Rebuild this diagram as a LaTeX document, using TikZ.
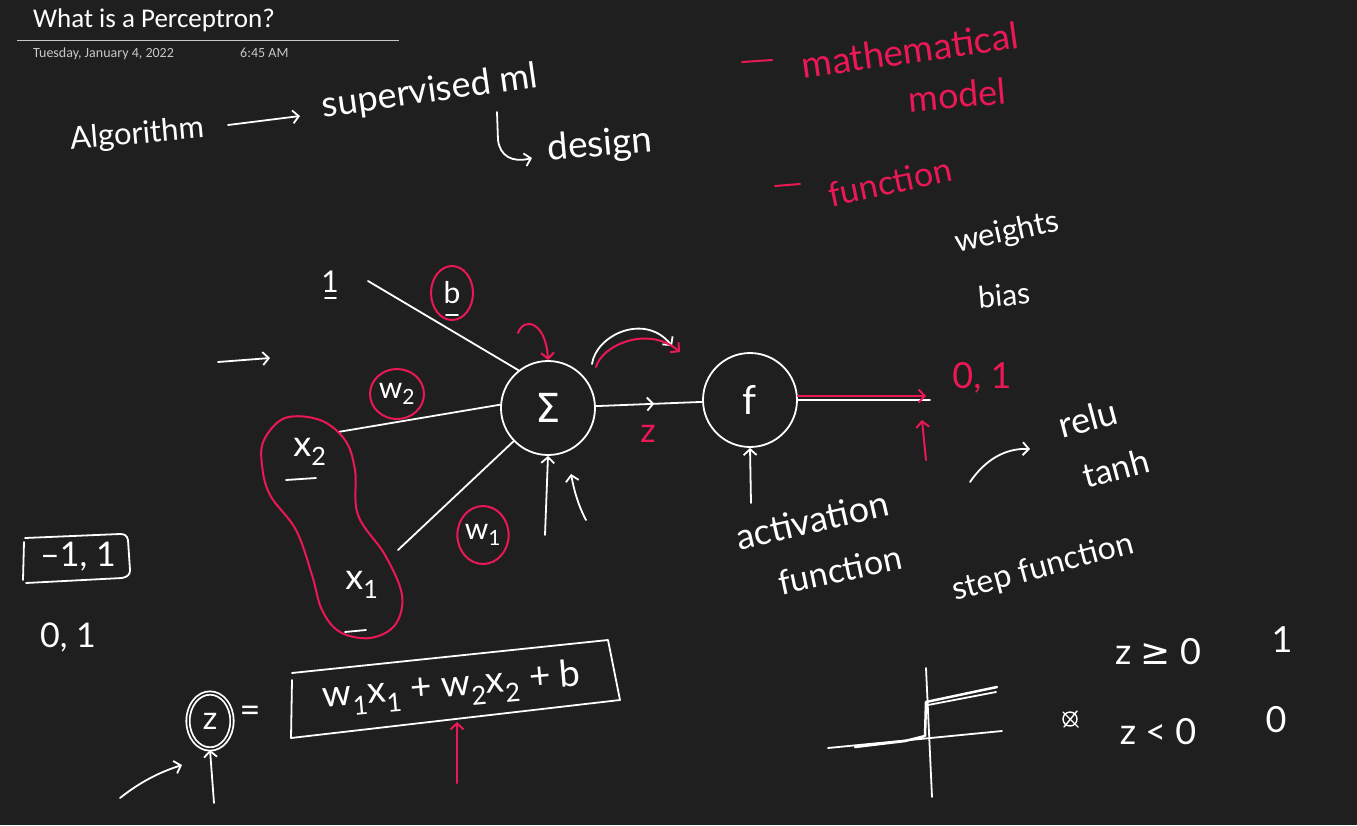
\documentclass[tikz,border=0pt]{standalone}
\usepackage{fontspec}
\usetikzlibrary{arrows.meta,shapes.geometric,decorations.markings}
\newfontfamily\titlefont{Carlito}
\newfontfamily\hand{Lato}
\newfontfamily\symf{DejaVu Sans}
\definecolor{bgc}{RGB}{32,31,31}
\definecolor{pk}{RGB}{234,24,84}
\definecolor{gr}{RGB}{200,200,200}
\tikzset{
  >={Straight Barb[length=6pt,width=13pt]},
  wl/.style={draw=white, line width=1.8pt, line cap=round, line join=round},
  pl/.style={draw=pk, line width=2pt, line cap=round, line join=round},
  hw/.style={text=white, inner sep=0pt, font=\hand\fontsize{#1}{#1}\selectfont},
  hw/.default=28,
  ph/.style={text=pk, inner sep=0pt, font=\hand\fontsize{#1}{#1}\selectfont},
  ph/.default=28,
  bignode/.style={circle, draw=white, line width=1.8pt, minimum size=94pt, inner sep=0pt, text=white, font=\hand\fontsize{40}{40}\selectfont},
  pcirc/.style={ellipse, draw=pk, line width=2pt, inner sep=0pt, text=white, font=\hand\fontsize{30}{30}\selectfont},
  midarrow/.style={postaction={decorate}, decoration={markings, mark=at position 0.55 with {\arrow[line width=1.8pt]{Straight Barb[length=6pt,width=13pt]}}}}
}
\begin{document}
\begin{tikzpicture}[x=1pt,y=-1pt]
\fill[bgc] (0,0) rectangle (1357,825);
\useasboundingbox (0,0) rectangle (1357,825);
% header
\node[anchor=base west, inner sep=0pt, text=white, font=\titlefont\fontsize{27}{27}\selectfont] (title) at (33,27) {What is a Perceptron?};
\draw[gr, line width=0.8pt] (17,40) -- (399,40);
\node[anchor=base west, inner sep=0pt, text=gr, font=\titlefont\fontsize{14}{14}\selectfont] (date) at (33,57) {Tuesday, January 4, 2022};
\node[anchor=base west, inner sep=0pt, text=gr, font=\titlefont\fontsize{14}{14}\selectfont] (time) at (240,57) {6:45 AM};

% top line
\node[hw=31, rotate=5] (algo) at (137,135) {Algorithm};
\node[hw=36, rotate=8] (sup) at (430,92) {supervised ml};
\coordinate (a0) at (228,125);
\coordinate (a1) at (300,116);
\draw[wl,->] (a0) -- (a1);
\coordinate (h0) at (497,112);
\node[hw=37, rotate=5] (design) at (600,146) {design};
\draw[wl,->] (h0) -- (498,140) .. controls (500,156) and (512,163) .. (532,158);

% pink notes
\draw[pl] (742,62) -- (772,60);
\node[ph=37, rotate=8] (math) at (910,50) {mathematical};
\node[ph=36, rotate=5] (model) at (957,95) {model};
\draw[pl] (775,186) -- (800,184);
\node[ph=34, rotate=12] (func) at (890,182) {function};
\node[hw=31, rotate=12] (weights) at (1007,233) {weights};
\node[hw=30, rotate=5] (bias) at (1004,295) {bias};

% perceptron
\node[bignode] (sigma) at (548,408) {\symf Σ};
\node[bignode] (f) at (750,400) {f};
\node[hw=30] (one) at (330,282) {1};
\draw[wl] (325,298) -- (336,298);
\coordinate (c1) at (368,281);
\draw[wl] (c1) -- (sigma.128);
\node[pcirc, minimum width=42pt, minimum height=54pt] (b) at (452,293) {b};
\draw[wl] (446,315) -- (458,315);
\coordinate (p0) at (518,333);
\draw[pl,->] (p0) .. controls (524,316) and (546,322) .. (sigma.north);
\coordinate (ar0) at (218,362);
\coordinate (ar1) at (270,358);
\draw[wl,->] (ar0) -- (ar1);
\node[pcirc, minimum width=54pt, minimum height=50pt] (w2) at (397,394) {w\textsubscript{2}};
\node[hw=36] (x2) at (310,452) {x\textsubscript{2}};
\draw[wl] (286,480) -- (316,478);
\coordinate (c2) at (338,432);
\draw[wl] (c2) -- (sigma.176);
\node[hw=36] (x1) at (362,585) {x\textsubscript{1}};
\draw[wl] (345,632) -- (366,630);
\coordinate (c3) at (398,550);
\draw[wl] (c3) -- (sigma.224);
\node[pcirc, minimum width=50pt, minimum height=58pt] (w1) at (483,535) {w\textsubscript{1}};
\draw[pl] plot[smooth cycle, tension=0.6] coordinates {(264,440) (285,418) (320,420) (345,440) (355,470) (358,515) (385,555) (402,595) (395,625) (370,638) (340,632) (322,610) (312,575) (296,530) (270,495) (262,465)};
\coordinate (s0) at (545,535);
\draw[wl,->] (s0) -- (sigma.south);
\coordinate (s1) at (586,520);
\draw[wl,->] (s1) .. controls (578,505) and (574,490) .. (571,474);

% sigma -> f
\draw[wl, midarrow] (sigma) -- (f);
\node[ph=34] (z) at (648,434) {z};
\coordinate (aw0) at (592,364);
\coordinate (aw1) at (672,346);
\draw[wl,->] (aw0) .. controls (596,335) and (645,312) .. (aw1);
\coordinate (ap0) at (596,367);
\coordinate (ap1) at (680,352);
\draw[pl,->] (ap0) .. controls (602,345) and (648,325) .. (ap1);

% output
\coordinate (out) at (930,400);
\draw[wl] (f) -- (out);
\draw[pl,->] ([yshift=4pt]f.east) -- ([xshift=-4pt,yshift=4pt]out);
\node[ph=36] (o01) at (982,378) {0, 1};
\coordinate (po) at (926,460);
\draw[pl,->] (po) -- (922,420);
\coordinate (fa) at (751,503);
\draw[wl,->] (fa) -- (f.south);
\node[hw=36, rotate=13] (act) at (812,520) {activation};
\node[hw=34, rotate=12] (actf) at (840,570) {function};
\coordinate (ra) at (970,482);
\node[hw=36, rotate=15] (relu) at (1088,418) {relu};
\node[hw=34, rotate=15] (tanh) at (1116,468) {tanh};
\draw[wl,->] (ra) .. controls (985,460) and (1005,448) .. (1030,449);
\node[hw=32, rotate=15] (stepf) at (1043,568) {step function};

% left
\node[hw=34] (m11) at (78,557) {–1, 1};
\draw[wl] (24,542) -- (23,580) (26,583) -- (122,578) .. controls (128,577) and (130,574) .. (130,570) -- (128,540) .. controls (127,535) and (124,534) .. (120,534) -- (25,538);
\node[hw=34] (o1b) at (68,637) {0, 1};

% equation
\node[ellipse, draw=white, line width=1.8pt, double=bgc, double distance=1.5pt, minimum width=44pt, minimum height=56pt, inner sep=0pt, text=white, font=\hand\fontsize{32}{32}\selectfont] (zc) at (210,721) {z};
\node[hw=36] (eq) at (250,714) {=};
\draw[wl] (292,680) -- (291,738) -- (620,700) -- (608,640) -- (292,673);
\node[hw=37, rotate=5] (expr) at (452,688) {w\textsubscript{1}x\textsubscript{1} + w\textsubscript{2}x\textsubscript{2} + b};
\coordinate (pe) at (457,783);
\draw[pl,->] (pe) -- (457,722);
\coordinate (za) at (120,798);
\draw[wl,->] (za) .. controls (140,782) and (160,772) .. (182,765);
\coordinate (zb) at (214,803);
\draw[wl,->] (zb) -- (zc.south);

% step graph
\coordinate (v0) at (926,668);
\coordinate (v1) at (932,797);
\coordinate (h1) at (828,748);
\coordinate (h2) at (1002,731);
\draw[wl] (v0) -- (v1);
\draw[wl] (h1) -- (h2);
\draw[wl, line width=2.5pt] (855,747) -- (905,741) -- (925,736) -- (926,702) -- (997,687);
\draw[wl] (928,705) -- (996,692);
\node[hw=36] (zge) at (1158,652) {z {\symf ≥} 0};
\node[hw=36] (one1) at (1282,640) {1};
\draw[wl, line width=1.4pt] (1070,719) circle[radius=7];
\draw[wl, line width=1.4pt] (1063,712) -- (1078,727) (1064,727) -- (1077,711);
\node[hw=36] (zlt) at (1158,732) {z < 0};
\node[hw=36] (zero0) at (1276,720) {0};
\end{tikzpicture}
\end{document}
